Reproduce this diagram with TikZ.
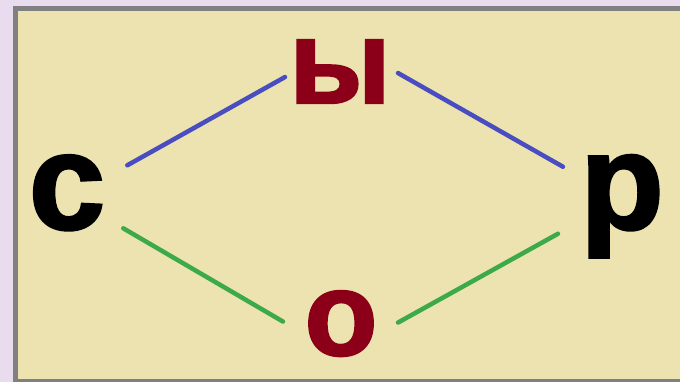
\documentclass[tikz,border=0pt]{standalone}
\usepackage{fontspec}
\setmainfont{Liberation Sans}[BoldFeatures={FakeBold=2}]
\usepackage{tikz}
\usetikzlibrary{positioning}

\definecolor{lavbg}{HTML}{E8DCEE}
\definecolor{cardfill}{HTML}{EDE3B0}
\definecolor{cardedge}{HTML}{808080}
\definecolor{letterred}{HTML}{8B0018}
\definecolor{lineblue}{HTML}{4A4DC0}
\definecolor{linegreen}{HTML}{3CAA48}

\begin{document}
\begin{tikzpicture}[x=1pt, y=-1pt,
    bigletter/.style={inner sep=0pt, anchor=base, font=\fontsize{137}{137}\selectfont\bfseries},
    redletter/.style={inner sep=0pt, anchor=base, text=letterred, font=\fontsize{119}{119}\selectfont\bfseries},
    blueline/.style={line width=4.5pt, lineblue, line cap=round},
    greenline/.style={line width=4.5pt, linegreen, line cap=round}]
    % Page and card
    \useasboundingbox (0,0) rectangle (680,382);
    \fill[lavbg] (0,0) rectangle (680,382);
    \draw[line width=5pt, cardedge, fill=cardfill] (15.5,8.5) rectangle (690,381.5);

    % Letters
    \node[bigletter] (c) at (67,229) {с};
    \node[redletter] (y) at (340,103) {ы};
    \node[bigletter] (r) at (622,229) {р};
    \node[redletter] (o) at (341,355) {о};

    % Upper path
    \draw[blueline] ([shift={(22,-27.5)}]c.east) -- ([shift={(-4,5.5)}]y.west);
    \draw[blueline] ([shift={(7,1.5)}]y.east) -- ([shift={(-17,-39.5)}]r.west);

    % Lower path
    \draw[greenline] ([shift={(18,35.5)}]c.east) -- ([shift={(-21.5,-2)}]o.west);
    \draw[greenline] ([shift={(20.5,-1)}]o.east) -- ([shift={(-22,27.5)}]r.west);
\end{tikzpicture}
\end{document}
